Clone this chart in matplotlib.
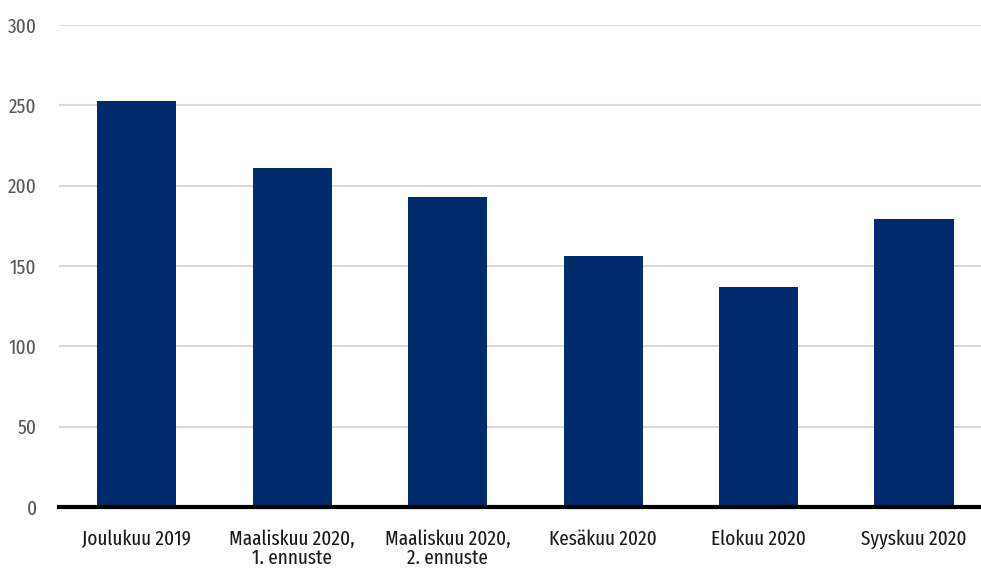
import matplotlib.pyplot as plt

categories = ["Joulukuu 2019", "Maaliskuu 2020,\n1. ennuste", "Maaliskuu 2020,\n2. ennuste",
              "Kesäkuu 2020", "Elokuu 2020", "Syyskuu 2020"]
values = [253, 211, 193, 156, 137, 179]
yticks = [0, 50, 100, 150, 200, 250, 300]

# kondensoitu fontti, lähin Myriad Condensedia
plt.rcParams['font.family'] = ["Fira Sans Extra Condensed", "PT Sans Narrow", "DejaVu Sans"]

fig = plt.figure(figsize=(9.81, 5.69), dpi=100)
ax = fig.add_axes([59 / 981, 62 / 569, 1 - 59 / 981, (507 - 25) / 569])

x = range(len(categories))
ax.bar(x, values, width=0.51, color="#002a6c", zorder=3)

ax.set_xlim(-0.5, 5.43)
ax.set_ylim(0, 300)
ax.set_yticks(yticks)
ax.set_xticks(list(x))
ax.set_xticklabels(categories, fontsize=15, color="#1a1a1a", linespacing=1.0, va="top")
ax.set_yticklabels([str(v) for v in yticks], fontsize=15, color="#595959")
ax.tick_params(axis="both", length=0)
ax.tick_params(axis="y", pad=16)
ax.tick_params(axis="x", pad=16)

ax.grid(axis="y", color="#d9d9d9", linewidth=1.5, zorder=0)
for s in ["top", "right", "left"]:
    ax.spines[s].set_visible(False)
ax.spines["bottom"].set_linewidth(3)
ax.spines["bottom"].set_color("black")
ax.spines["bottom"].set_zorder(4)

fig.savefig("out.png", dpi=100)
